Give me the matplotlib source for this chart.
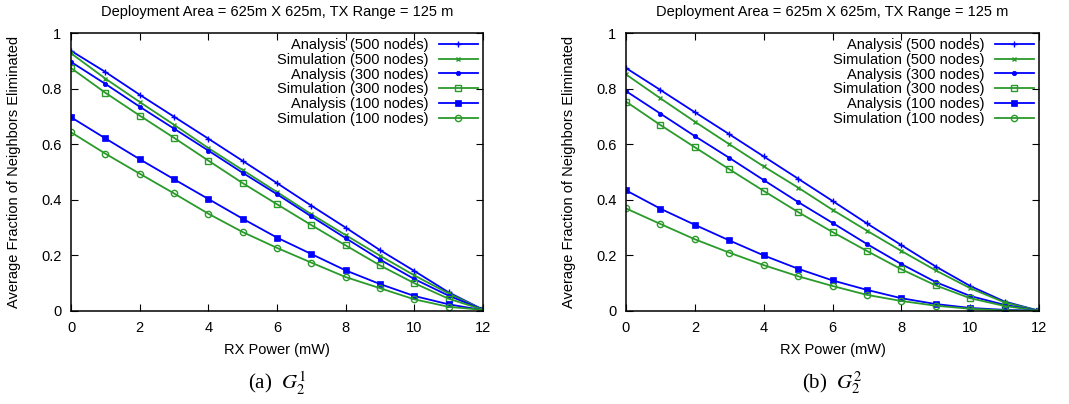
import matplotlib
matplotlib.use("Agg")
import matplotlib.pyplot as plt

rx_power = list(range(13))

# panel (a) G_2^1
a_ana_500 = [0.936, 0.860, 0.778, 0.699, 0.620, 0.540, 0.460, 0.379, 0.300, 0.219, 0.144, 0.067, 0.005]
a_sim_500 = [0.927, 0.836, 0.752, 0.670, 0.586, 0.507, 0.428, 0.348, 0.273, 0.199, 0.128, 0.063, 0.005]
a_ana_300 = [0.896, 0.817, 0.735, 0.656, 0.577, 0.497, 0.420, 0.340, 0.262, 0.185, 0.115, 0.055, 0.005]
a_sim_300 = [0.874, 0.785, 0.703, 0.623, 0.541, 0.460, 0.384, 0.309, 0.236, 0.164, 0.100, 0.044, 0.005]
a_ana_100 = [0.697, 0.621, 0.546, 0.474, 0.403, 0.332, 0.264, 0.205, 0.146, 0.097, 0.054, 0.024, 0.003]
a_sim_100 = [0.643, 0.566, 0.494, 0.423, 0.350, 0.284, 0.227, 0.174, 0.122, 0.082, 0.042, 0.015, 0.004]

# panel (b) G_2^2
b_ana_500 = [0.874, 0.795, 0.715, 0.636, 0.556, 0.476, 0.396, 0.315, 0.237, 0.160, 0.090, 0.034, 0.001]
b_sim_500 = [0.851, 0.765, 0.681, 0.600, 0.520, 0.444, 0.364, 0.289, 0.216, 0.146, 0.082, 0.031, 0.001]
b_ana_300 = [0.791, 0.710, 0.629, 0.551, 0.471, 0.392, 0.317, 0.241, 0.169, 0.104, 0.054, 0.022, 0.001]
b_sim_300 = [0.753, 0.669, 0.589, 0.510, 0.432, 0.356, 0.284, 0.216, 0.150, 0.092, 0.046, 0.018, 0.001]
b_ana_100 = [0.434, 0.368, 0.310, 0.254, 0.200, 0.152, 0.110, 0.076, 0.046, 0.025, 0.011, 0.004, 0.001]
b_sim_100 = [0.369, 0.313, 0.258, 0.210, 0.165, 0.125, 0.090, 0.058, 0.036, 0.019, 0.008, 0.002, 0.001]

labels = ["Analysis (500 nodes)", "Simulation (500 nodes)",
          "Analysis (300 nodes)", "Simulation (300 nodes)",
          "Analysis (100 nodes)", "Simulation (100 nodes)"]
x_ticks = [0, 2, 4, 6, 8, 10, 12]
y_ticks = [0, 0.2, 0.4, 0.6, 0.8, 1]
y_tick_labels = ["0", "0.2", "0.4", "0.6", "0.8", "1"]

BLUE = "#0000ff"
GREEN = "#2a9a2a"
STYLES = [
    dict(color=BLUE, marker="+", ms=4, mew=1.0, mfc=BLUE),
    dict(color=GREEN, marker="x", ms=3.5, mew=1.0, mfc=GREEN),
    dict(color=BLUE, marker="o", ms=3.2, mew=0.5, mfc=BLUE),
    dict(color=GREEN, marker="s", ms=4.5, mew=1.0, mfc="none"),
    dict(color=BLUE, marker="s", ms=4.2, mew=0.5, mfc=BLUE),
    dict(color=GREEN, marker="o", ms=4.5, mew=1.0, mfc="none"),
]

plt.rcParams["font.family"] = ["Liberation Sans", "DejaVu Sans"]
plt.rcParams["mathtext.fontset"] = "stix"

fig = plt.figure(figsize=(10.69, 4.04), dpi=100)
W, H = 1069, 404
panels = [
    ((71, 483), [a_ana_500, a_sim_500, a_ana_300, a_sim_300, a_ana_100, a_sim_100], "(a)  $G_2^1$"),
    ((626, 1039), [b_ana_500, b_sim_500, b_ana_300, b_sim_300, b_ana_100, b_sim_100], "(b)  $G_2^2$"),
]
top, bottom = 33, 311

for (x0, x1), series, caption in panels:
    ax = fig.add_axes([x0 / W, 1 - bottom / H, (x1 - x0) / W, (bottom - top) / H])
    for ys, lab, st in zip(series, labels, STYLES):
        ax.plot(rx_power, ys, lw=1.3, label=lab, **st)
    ax.set_xlim(0, 12)
    ax.set_ylim(0, 1)
    ax.set_xticks(x_ticks)
    ax.set_yticks(y_ticks)
    ax.set_yticklabels(y_tick_labels)
    ax.tick_params(direction="in", top=True, right=True, length=5, width=0.8,
                   labelsize=10.5, pad=7)
    for s in ax.spines.values():
        s.set_linewidth(1.1)
    ax.set_xlabel("RX Power (mW)", fontsize=10.5, labelpad=6)
    ax.set_ylabel("Average Fraction of Neighbors Eliminated", fontsize=10.5, labelpad=14)
    ax.set_title("Deployment Area = 625m X 625m, TX Range = 125 m", fontsize=10.5, pad=12)
    leg = ax.legend(loc="upper right", frameon=False, markerfirst=False, fontsize=10.5,
                    handlelength=2.7, handletextpad=0.7, labelspacing=0.05,
                    borderaxespad=0.1, borderpad=0.25)
    leg._legend_handle_box.get_children()[0].align = "right"
    fig.text((x0 + x1) / 2 / W, 1 - 383 / H, caption, ha="center", va="center",
             fontsize=15, family="Liberation Serif")

fig.savefig("out.png", dpi=100)
